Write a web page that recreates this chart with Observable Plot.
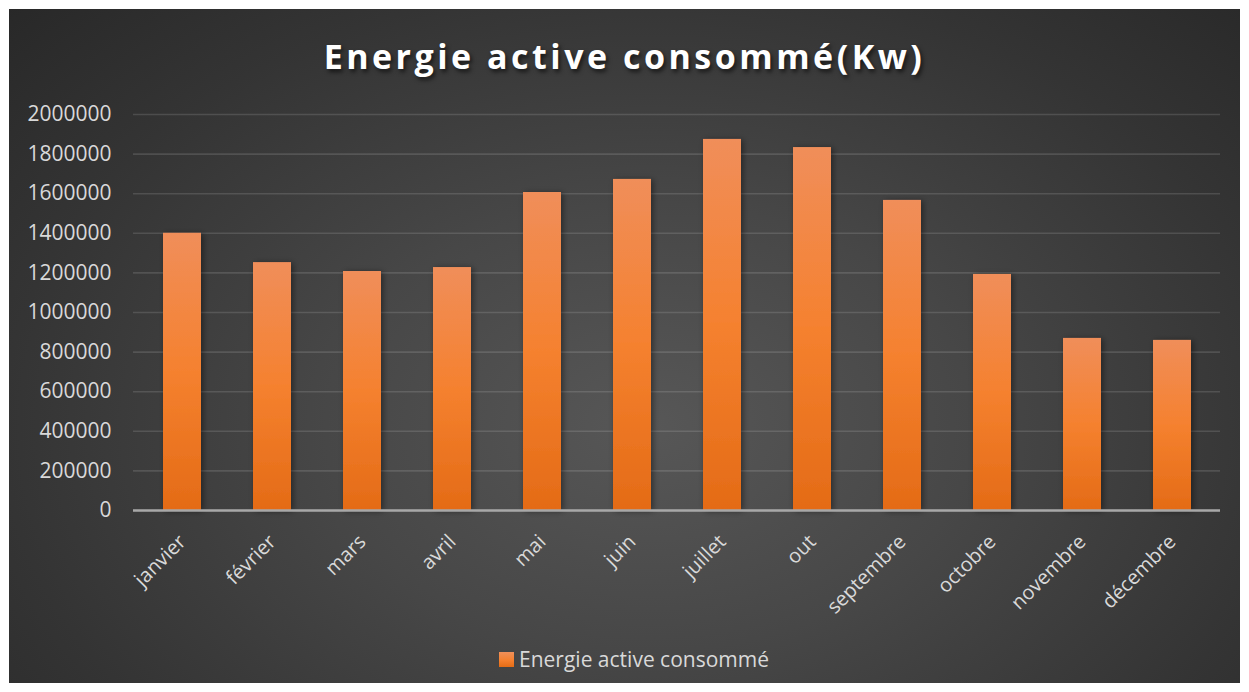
<!DOCTYPE html>
<html>
<head>
<meta charset="utf-8">
<script src="https://cdn.jsdelivr.net/npm/d3@7"></script>
<script src="https://cdn.jsdelivr.net/npm/@observablehq/plot@0.6"></script>
<style>
  html, body { margin: 0; padding: 0; background: #ffffff; }
  #panel {
    position: absolute; left: 9px; top: 9px; width: 1231px; height: 674px; overflow: hidden;
    background: radial-gradient(ellipse 75% 95% at 52% 62%, #575757 0%, #474747 35%, #343434 70%, #262626 100%);
    font-family: "Open Sans", sans-serif;
  }
  #title {
    position: absolute; left: 0; width: 100%; top: 24px; text-align: center;
    color: #ffffff; font-weight: 700; font-size: 34px; letter-spacing: 3.5px;
    text-shadow: 2px 3px 4px rgba(0,0,0,0.6);
  }
  #chart { position: absolute; left: 0; top: 86px; }
  #legend {
    position: absolute; top: 636px; left: 490px; display: flex; align-items: center;
    color: #d9d9d9; font-size: 21px;
  }
  #legend .sw { width: 15px; height: 15px; margin-right: 5px;
    background: linear-gradient(#f0905a, #f5802e 55%, #e46c15); }
</style>
</head>
<body>
<div id="panel">
  <div id="title">Energie active consommé(Kw)</div>
  <div id="chart"></div>
  <div id="legend"><div class="sw"></div><span id="legendText"></span></div>
</div>
<script>
const months = ["janvier", "février", "mars", "avril", "mai", "juin", "juillet", "out", "septembre", "octobre", "novembre", "décembre"];
const values = [1400000, 1252000, 1207000, 1227000, 1606000, 1672000, 1874000, 1833000, 1566000, 1192000, 869000, 859000];
const yTicks = [0, 200000, 400000, 600000, 800000, 1000000, 1200000, 1400000, 1600000, 1800000, 2000000];
const seriesName = "Energie active consommé";

const data = months.map((m, i) => ({month: m, value: values[i]}));

const chart = Plot.plot({
  width: 1231,
  height: 545,
  marginLeft: 124,
  marginRight: 20,
  marginTop: 19,
  marginBottom: 130,
  style: {background: "transparent", color: "#d9d9d9", fontFamily: "Open Sans, sans-serif", overflow: "visible"},
  x: {domain: months, paddingInner: 0.58, paddingOuter: 0.29, axis: null},
  y: {domain: [0, 2000000], axis: null},
  marks: [
    () => {
      const defs = document.createElementNS("http://www.w3.org/2000/svg", "defs");
      defs.innerHTML = `
        <linearGradient id="barGrad" x1="0" y1="0" x2="0" y2="1">
          <stop offset="0%" stop-color="#f08e5a"/>
          <stop offset="50%" stop-color="#f5812f"/>
          <stop offset="100%" stop-color="#e46b16"/>
        </linearGradient>
        <filter id="shadow" x="-30%" y="-10%" width="160%" height="120%">
          <feDropShadow dx="2" dy="1" stdDeviation="3" flood-color="#000" flood-opacity="0.45"/>
        </filter>`;
      return defs;
    },
    Plot.gridY(yTicks, {stroke: "#ffffff", strokeOpacity: 0.13, strokeWidth: 1.6}),
    Plot.axisY(yTicks, {tickSize: 0, tickPadding: 22, tickFormat: d => String(d), fontSize: 21, fill: "#d9d9d9", label: null}),
    Plot.barY(data, {x: "month", y: "value", fill: "url(#barGrad)"}),
    Plot.ruleY([0], {stroke: "#a8a8a8", strokeWidth: 2.5}),
    Plot.axisX({tickSize: 0, tickPadding: 28, tickRotate: -45, fontSize: 20, fill: "#d9d9d9", label: null})
  ]
});
document.getElementById("chart").appendChild(chart);
const barG = chart.querySelector('g[aria-label="bar"]');
if (barG) barG.setAttribute("filter", "url(#shadow)");
document.getElementById("legendText").textContent = seriesName;
</script>
</body>
</html>
